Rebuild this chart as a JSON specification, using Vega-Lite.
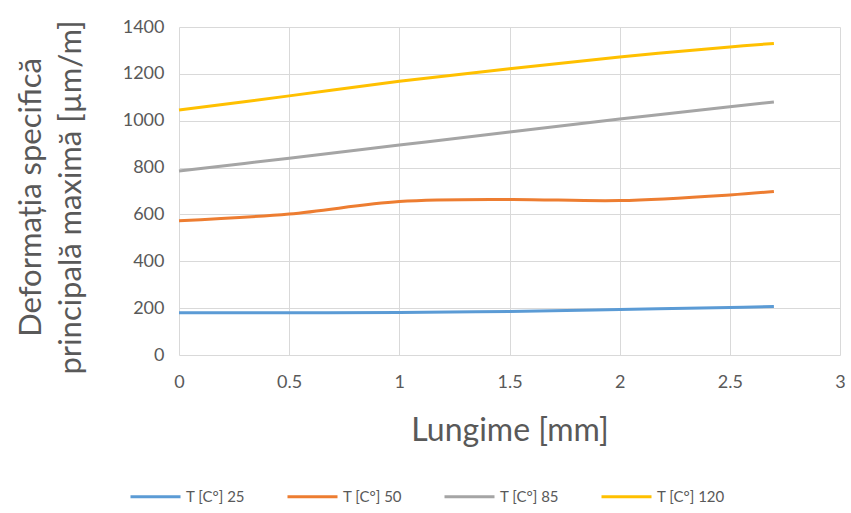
{
  "$schema": "https://vega.github.io/schema/vega-lite/v6.json",
  "autosize": {"type": "none"},
  "padding": {"left": 179, "top": 27, "right": 11, "bottom": 158},
  "width": 661,
  "height": 328,
  "background": "white",
  "config": {
    "font": "Lato",
    "view": {"stroke": null},
    "axis": {"gridColor": "#d9d9d9", "gridWidth": 1, "domain": false, "ticks": false, "labelColor": "#595959", "titleColor": "#595959", "labelFontWeight": "normal", "titleFontWeight": "normal"}
  },
  "data": {
    "values": [
      {"x": 0, "y": 180, "s": "T [C°] 25"},
      {"x": 0.5, "y": 180, "s": "T [C°] 25"},
      {"x": 1, "y": 181, "s": "T [C°] 25"},
      {"x": 1.5, "y": 186, "s": "T [C°] 25"},
      {"x": 2, "y": 194, "s": "T [C°] 25"},
      {"x": 2.5, "y": 203, "s": "T [C°] 25"},
      {"x": 2.7, "y": 207, "s": "T [C°] 25"},
      {"x": 0, "y": 573, "s": "T [C°] 50"},
      {"x": 0.5, "y": 602, "s": "T [C°] 50"},
      {"x": 1, "y": 655, "s": "T [C°] 50"},
      {"x": 1.5, "y": 664, "s": "T [C°] 50"},
      {"x": 2, "y": 659, "s": "T [C°] 50"},
      {"x": 2.5, "y": 683, "s": "T [C°] 50"},
      {"x": 2.7, "y": 698, "s": "T [C°] 50"},
      {"x": 0, "y": 785, "s": "T [C°] 85"},
      {"x": 0.5, "y": 840, "s": "T [C°] 85"},
      {"x": 1, "y": 896, "s": "T [C°] 85"},
      {"x": 1.5, "y": 952, "s": "T [C°] 85"},
      {"x": 2, "y": 1007, "s": "T [C°] 85"},
      {"x": 2.5, "y": 1060, "s": "T [C°] 85"},
      {"x": 2.7, "y": 1080, "s": "T [C°] 85"},
      {"x": 0, "y": 1046, "s": "T [C°] 120"},
      {"x": 0.5, "y": 1106, "s": "T [C°] 120"},
      {"x": 1, "y": 1168, "s": "T [C°] 120"},
      {"x": 1.5, "y": 1222, "s": "T [C°] 120"},
      {"x": 2, "y": 1272, "s": "T [C°] 120"},
      {"x": 2.5, "y": 1315, "s": "T [C°] 120"},
      {"x": 2.7, "y": 1330, "s": "T [C°] 120"}
    ]
  },
  "mark": {"type": "line", "interpolate": "catmull-rom", "strokeWidth": 3},
  "encoding": {
    "x": {"field": "x", "type": "quantitative", "scale": {"domain": [0, 3], "nice": false},
      "axis": {"values": [0, 0.5, 1, 1.5, 2, 2.5, 3], "format": "~g", "labelFontSize": 18, "labelPadding": 18, "title": "Lungime [mm]", "titleFontSize": 32, "titlePadding": 24, "labelFlush": false}},
    "y": {"field": "y", "type": "quantitative", "scale": {"domain": [0, 1400], "nice": false},
      "axis": {"values": [0, 200, 400, 600, 800, 1000, 1200, 1400], "format": "d", "labelFontSize": 18, "labelPadding": 15, "title": ["Deformația specifică", "principală maximă [µm/m]"], "titleFontSize": 31, "titlePadding": 35, "titleLineHeight": 40, "titleY": 170}},
    "color": {"field": "s", "type": "nominal",
      "scale": {"domain": ["T [C°] 25", "T [C°] 50", "T [C°] 85", "T [C°] 120"], "range": ["#5B9BD5", "#ED7D31", "#A5A5A5", "#FFC000"]},
      "legend": {"title": null, "orient": "none", "legendX": -50, "legendY": 443, "direction": "horizontal", "symbolType": "stroke", "symbolSize": 2500, "symbolStrokeWidth": 3, "labelFontSize": 15, "labelColor": "#595959", "columnPadding": 36, "labelOffset": 4}}
  }
}
